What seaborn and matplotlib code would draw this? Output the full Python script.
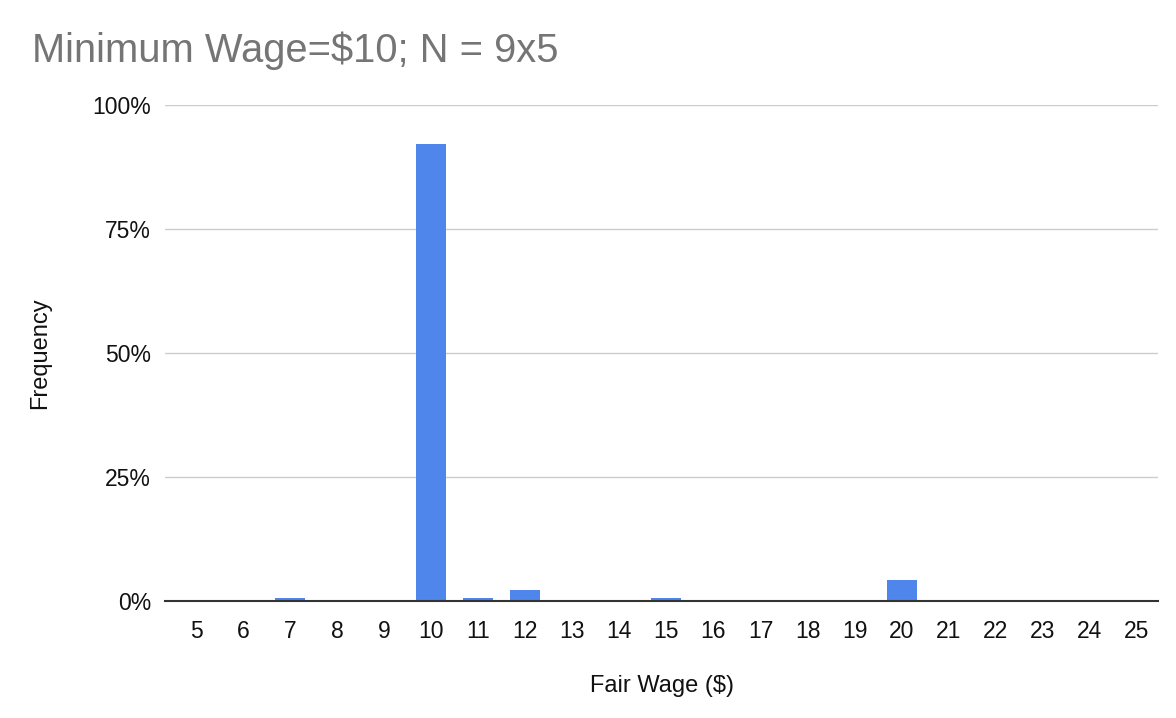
import pandas as pd
import matplotlib.pyplot as plt
import seaborn as sns
from matplotlib.ticker import PercentFormatter

# fair wage answers and their share (%)
wages = list(range(5, 26))
freq = [0, 0, 0.6, 0, 0, 92.1, 0.6, 2.2, 0, 0, 0.6, 0, 0, 0, 0, 4.3, 0, 0, 0, 0, 0]

df = pd.DataFrame({"wage": [str(w) for w in wages], "freq": freq})

sns.set_style("white")
plt.rcParams['font.family'] = ['Liberation Sans', 'DejaVu Sans']

fig = plt.figure(figsize=(11.76, 7.18), dpi=100)
ax = fig.add_axes([165 / 1176, 1 - 601 / 718, (1158 - 165) / 1176, (601 - 105) / 718])

sns.barplot(data=df, x="wage", y="freq", color="#4e86ec", width=0.64, saturation=1,
            linewidth=0, ax=ax)

ax.set_ylim(0, 100)
ax.set_xlim(-0.66, len(wages) - 1 + 0.45)
ax.set_yticks([0, 25, 50, 75, 100])
ax.yaxis.set_major_formatter(PercentFormatter(decimals=0))
ax.grid(axis="y", color="#cccccc", linewidth=1)
ax.set_axisbelow(True)
for s in ["top", "right", "left"]:
    ax.spines[s].set_visible(False)
ax.spines["bottom"].set_color("#333333")
ax.spines["bottom"].set_linewidth(1.5)
ax.tick_params(axis="both", length=0, labelsize=16.5, colors="#111111")
ax.tick_params(axis="x", pad=14)
ax.tick_params(axis="y", pad=10)

ax.set_xlabel("Fair Wage ($)", fontsize=17, color="#111111", va="center")
ax.set_ylabel("Frequency", fontsize=17, color="#111111", va="center")
ax.xaxis.set_label_coords(0.5, -85 / 496)
ax.yaxis.set_label_coords(-125 / 993, 0.5)

fig.text(32 / 1176, 1 - 62 / 718, "Minimum Wage=$10; N = 9x5", fontsize=28.7, color="#757575")

fig.savefig("out.png", dpi=100)
